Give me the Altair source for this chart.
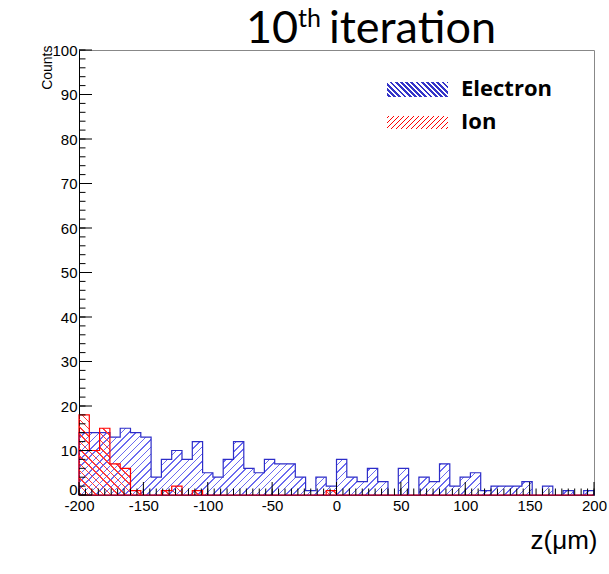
import altair as alt
import pandas as pd

# ---------------- data ----------------
bin_left = list(range(-200, 200, 8))          # 50 bins of 8 um
electron = [14, 14, 14, 13, 15, 14, 13, 4, 8, 10,
            8, 12, 5, 4, 8, 12, 6, 5, 8, 7,
            7, 4, 1, 4, 2, 8, 4, 3, 6, 3,
            0, 6, 0, 4, 3, 7, 2, 4, 5, 1,
            2, 2, 2, 3, 0, 2, 0, 1, 0, 1]
ion = [18, 10, 15, 7, 6, 1, 0, 0, 1, 2,
       0, 1, 0, 0, 0, 0, 0, 0, 0, 0,
       0, 0, 0, 0, 1, 0, 0, 0, 0, 0,
       0, 0, 0, 0, 0, 0, 0, 0, 0, 0,
       0, 0, 0, 0, 0, 0, 0, 0, 0, 0]
x_major = list(range(-200, 201, 50))
x_minor = list(range(-200, 201, 5))
y_major = list(range(0, 101, 10))
y_minor = list(range(0, 101, 2))
legend_labels = ["Electron", "Ion"]
title_parts = ["10", "th", "iteration"]
x_title = "z(μm)"
y_title = "Counts"

# ---------------- layout ----------------
W, H = 515, 445
YPX = H / 100.0
CLEAR = "rgba(255,255,255,0)"


def hatch(w, h, direction, period_px, line_px, color, k=1.2):
    s = w / (k * (w * w + h * h))
    p = period_px * s
    ln = line_px * s
    if direction == "/":
        x1, y1, x2, y2 = 0, 0, k, k * h / w
    else:
        x1, y1, x2, y2 = 0, 1, k, 1 - k * h / w
    stops = [{"offset": 0, "color": CLEAR}]
    o = p * 0.3
    while o + ln < 1:
        a, b = round(o, 6), round(o + ln, 6)
        stops += [{"offset": a, "color": CLEAR}, {"offset": a, "color": color},
                  {"offset": b, "color": color}, {"offset": b, "color": CLEAR}]
        o += p
    stops.append({"offset": 1, "color": CLEAR})
    return {"gradient": "linear", "x1": x1, "y1": y1, "x2": x2, "y2": y2, "stops": stops}


def hist_df(counts):
    return pd.DataFrame({"z": bin_left + [200], "count": counts + [counts[-1]]})


x_scale = alt.Scale(domain=[-200, 200], nice=False, zero=False)
y_scale = alt.Scale(domain=[0, 100], nice=False, zero=True)

x_axis = alt.Axis(values=x_major, labelExpr="'' + datum.value", labelFont="Liberation Sans",
                  labelFontSize=15, labelColor="black", labelPadding=3, labelFlush=False,
                  ticks=False, domain=True, domainColor="black", grid=False,
                  title=x_title, titleFont="Liberation Sans", titleFontSize=26,
                  titleFontWeight="normal", titleColor="black", titleX=518, titleY=45,
                  titleAlign="right", titleBaseline="middle")
y_axis = alt.Axis(values=y_major, format="d", labelFont="Liberation Sans", labelFontSize=15,
                  labelColor="black", labelPadding=2, ticks=False, domain=True,
                  domainColor="black", grid=False,
                  labelOffset={"condition": {"test": "datum.value === 0", "value": -6}, "value": 0},
                  title=y_title, titleFont="Liberation Sans", titleFontSize=14,
                  titleFontWeight="normal", titleColor="black", titleX=-28, titleY=-5,
                  titleAlign="right", titleBaseline="alphabetic", titleAngle=270)

blue_fill = hatch(W, max(electron) * YPX, "/", 7.3, 1.5, "#6b6bf0")
red_fill = hatch(W, max(ion) * YPX, "\\", 7.3, 1.5, "#ff3a3a")

blue = alt.Chart(hist_df(electron)).mark_area(
    interpolate="step-after", fill=blue_fill, stroke="#2d2dc8", strokeWidth=1.2
).encode(
    x=alt.X("z:Q", scale=x_scale, axis=x_axis),
    y=alt.Y("count:Q", scale=y_scale, axis=y_axis),
)

red = alt.Chart(hist_df(ion)).mark_area(
    interpolate="step-after", fill=red_fill, stroke="#ff0000", strokeWidth=1.2
).encode(
    x=alt.X("z:Q", scale=x_scale, axis=x_axis),
    y=alt.Y("count:Q", scale=y_scale, axis=y_axis),
)


def xticks(vals, length):
    return alt.Chart(pd.DataFrame({"v": vals})).mark_rule(color="black", strokeWidth=1).encode(
        x=alt.X("v:Q", scale=x_scale, axis=x_axis),
        y=alt.value(H), y2=alt.value(H - length))


def yticks(vals, length):
    return alt.Chart(pd.DataFrame({"v": vals})).mark_rule(color="black", strokeWidth=1).encode(
        y=alt.Y("v:Q", scale=y_scale, axis=y_axis),
        x=alt.value(0), x2=alt.value(length))


def text(t, x, y, size, font="Lato", weight="normal", baseline="alphabetic"):
    return alt.Chart(pd.DataFrame({"t": [t]})).mark_text(
        font=font, fontSize=size, fontWeight=weight, align="left", baseline=baseline,
        color="black").encode(text="t:N", x=alt.value(x), y=alt.value(y))


def swatch(x0, x1, y0, y1, fill):
    return alt.Chart(pd.DataFrame({"a": [0]})).mark_rect(fill=fill).encode(
        x=alt.value(x0), x2=alt.value(x1), y=alt.value(y0), y2=alt.value(y1))


sw_e = swatch(308, 369, 32, 47, hatch(61, 15, "\\", 5.2, 2.8, "#3535c8"))
sw_i = swatch(308, 369, 66, 79, hatch(61, 13, "/", 5.0, 1.4, "#ff0000"))

chart = alt.layer(
    blue, red,
    xticks(x_minor, 6.5), xticks(x_major, 13),
    yticks(y_minor, 6.5), yticks(y_major, 13),
    sw_e, sw_i,
    text(legend_labels[0], 382, 39, 22, font="Open Sans", weight="bold", baseline="middle"),
    text(legend_labels[1], 382, 72, 22, font="Open Sans", weight="bold", baseline="middle"),
    text(title_parts[0], 167, -7, 45),
    text(title_parts[1], 219, -23, 25),
    text(title_parts[2], 250, -7, 45),
).properties(
    width=W, height=H,
    autosize=alt.AutoSizeParams(type="none"),
    padding={"left": 79, "top": 50, "right": 15, "bottom": 79},
    background="white",
).configure_view(stroke="#888888", strokeWidth=1)

chart.save("out.html", embed_options={"renderer": "svg", "actions": False})
